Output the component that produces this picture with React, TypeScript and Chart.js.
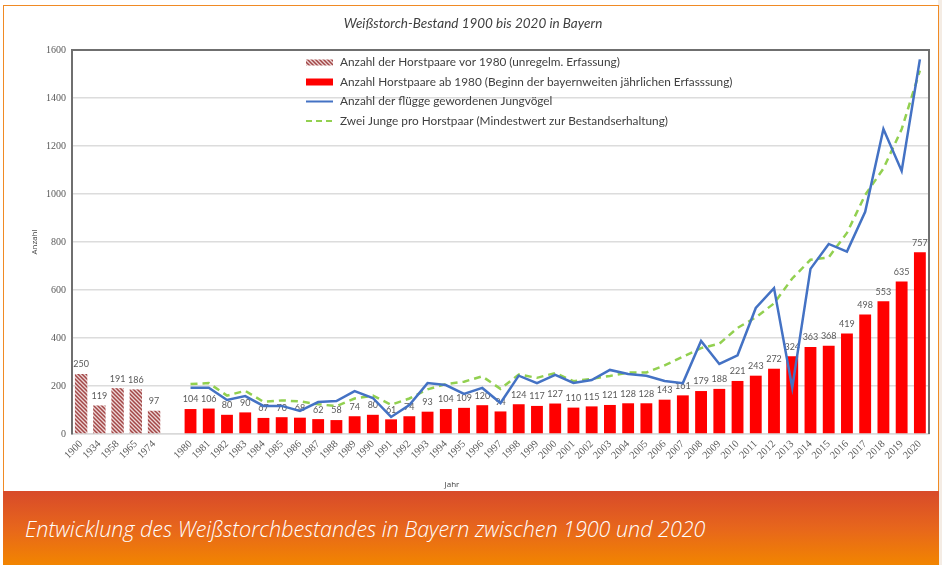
import React, { useEffect, useRef } from "react";
import { Chart, registerables } from "chart.js";
Chart.register(...registerables);

const oldYears = ["1900", "1934", "1958", "1965", "1974"];
const newYears = [
  "1980", "1981", "1982", "1983", "1984", "1985", "1986", "1987", "1988", "1989",
  "1990", "1991", "1992", "1993", "1994", "1995", "1996", "1997", "1998", "1999",
  "2000", "2001", "2002", "2003", "2004", "2005", "2006", "2007", "2008", "2009",
  "2010", "2011", "2012", "2013", "2014", "2015", "2016", "2017", "2018", "2019",
  "2020",
];
const oldPairs = [250, 119, 191, 186, 97];
const newPairs = [
  104, 106, 80, 90, 67, 70, 68, 62, 58, 74,
  80, 61, 74, 93, 104, 109, 120, 94, 124, 117,
  127, 110, 115, 121, 128, 128, 143, 161, 179, 188,
  221, 243, 272, 324, 363, 368, 419, 498, 553, 635,
  757,
];
const fledglings = [
  193, 193, 142, 158, 117, 117, 96, 133, 137, 179,
  150, 71, 121, 212, 204, 167, 192, 129, 243, 212,
  246, 213, 225, 267, 250, 243, 221, 212, 388, 292,
  328, 525, 608, 193, 688, 792, 760, 926, 1271, 1096,
  1561,
];
const twoPerPair = [
  208, 212, 160, 180, 134, 140, 136, 124, 116, 148,
  160, 122, 148, 186, 208, 218, 240, 188, 248, 234,
  254, 220, 230, 242, 256, 256, 286, 322, 358, 376,
  442, 486, 544, 648, 726, 736, 838, 996, 1106, 1270,
  1514,
];
const yTicks = [0, 200, 400, 600, 800, 1000, 1200, 1400, 1600];
const legendLabels = [
  "Anzahl der Horstpaare vor 1980 (unregelm. Erfassung)",
  "Anzahl Horstpaare ab 1980 (Beginn der bayernweiten jährlichen Erfasssung)",
  "Anzahl der flügge gewordenen Jungvögel",
  "Zwei Junge pro Horstpaar (Mindestwert zur Bestandserhaltung)",
];
const titleText = "Weißstorch-Bestand 1900 bis 2020 in Bayern";
const captionText = "Entwicklung des Weißstorchbestandes in Bayern zwischen 1900 und 2020";

const BLUE = "#4472c4";
const GREEN = "#92d050";
const RED = "#ff0000";
const TXT = "#595959";

function makeHatch(ctx: CanvasRenderingContext2D) {
  const c = document.createElement("canvas");
  c.width = 4;
  c.height = 4;
  const x = c.getContext("2d")!;
  x.fillStyle = "#ecd6d6";
  x.fillRect(0, 0, 4, 4);
  x.strokeStyle = "#a24646";
  x.lineWidth = 1.5;
  x.beginPath();
  x.moveTo(0, 0); x.lineTo(4, 4);
  x.moveTo(-2, 2); x.lineTo(2, 6);
  x.moveTo(2, -2); x.lineTo(6, 2);
  x.stroke();
  return ctx.createPattern(c, "repeat")!;
}

export default function App() {
  const ref = useRef<HTMLCanvasElement>(null);
  useEffect(() => {
    const canvas = ref.current!;
    const ctx = canvas.getContext("2d")!;
    const hatch = makeHatch(ctx);
    const gap = [null];
    const labels = [...oldYears, "", ...newYears];
    const nullsOld = oldYears.map(() => null);
    const nullsNew = newYears.map(() => null);

    const labelPlugin = {
      id: "barLabels",
      afterDatasetDraw(chart: any, args: any) {
        const ds = chart.data.datasets[args.index];
        if (ds.type !== "bar") return;
        const c = chart.ctx;
        c.save();
        c.font = "9px Lato";
        c.fillStyle = TXT;
        c.textAlign = "center";
        c.textBaseline = "bottom";
        args.meta.data.forEach((el: any, i: number) => {
          const v = ds.data[i];
          if (v == null) return;
          c.fillText(String(v), el.x, el.y - 5);
        });
        c.restore();
      },
    };

    const framePlugin = {
      id: "frame",
      beforeDatasetsDraw(chart: any) {
        const { left, right, top, bottom } = chart.chartArea;
        const c = chart.ctx;
        c.save();
        c.strokeStyle = "#6f6f6f";
        c.lineWidth = 2;
        c.beginPath();
        c.moveTo(left - 1, top);
        c.lineTo(right, top);
        c.lineTo(right, bottom);
        c.stroke();
        c.restore();
      },
      afterDraw(chart: any) {
        const c = chart.ctx;
        c.save();
        c.font = "italic 13.5px Lato";
        c.fillStyle = "#404040";
        c.textAlign = "center";
        c.textBaseline = "middle";
        c.fillText(titleText, 473, 24);
        c.font = "8px 'Open Sans'";
        c.fillStyle = "#404040";
        c.fillText("Jahr", 452, 485);
        c.translate(35, 242);
        c.rotate(-Math.PI / 2);
        c.fillText("Anzahl", 0, 0);
        c.restore();

        c.save();
        const rows = [62.5, 82, 101.5, 121];
        const x0 = 306, x1 = 333, tx = 340;
        c.font = "11.8px Lato";
        c.textAlign = "left";
        c.textBaseline = "middle";
        legendLabels.forEach((t, i) => {
          const y = rows[i];
          if (i === 0) {
            c.fillStyle = hatch;
            c.fillRect(x0, y - 3, x1 - x0, 6);
          } else if (i === 1) {
            c.fillStyle = RED;
            c.fillRect(x0, y - 3.5, x1 - x0, 7);
          } else if (i === 2) {
            c.strokeStyle = BLUE;
            c.lineWidth = 2;
            c.beginPath();
            c.moveTo(x0, y);
            c.lineTo(x1, y);
            c.stroke();
          } else {
            c.strokeStyle = GREEN;
            c.lineWidth = 2;
            c.setLineDash([6, 4]);
            c.beginPath();
            c.moveTo(x0, y);
            c.lineTo(x1, y);
            c.stroke();
            c.setLineDash([]);
          }
          c.fillStyle = "#404040";
          c.fillText(t, tx, y);
        });
        c.restore();
      },
    };

    const chart = new Chart(canvas, {
      data: {
        labels,
        datasets: [
          {
            type: "line",
            label: legendLabels[2],
            data: [...nullsOld, ...gap, ...fledglings],
            borderColor: BLUE,
            borderWidth: 2.5,
            pointRadius: 0,
            tension: 0,
            order: 0,
          },
          {
            type: "line",
            label: legendLabels[3],
            data: [...nullsOld, ...gap, ...twoPerPair],
            borderColor: GREEN,
            borderWidth: 2.5,
            borderDash: [7, 5],
            pointRadius: 0,
            tension: 0,
            order: 1,
          },
          {
            type: "bar",
            label: legendLabels[1],
            data: [...nullsOld, ...gap, ...newPairs],
            backgroundColor: RED,
            grouped: false,
            categoryPercentage: 1,
            barPercentage: 0.65,
            order: 2,
          },
          {
            type: "bar",
            label: legendLabels[0],
            data: [...oldPairs, ...gap, ...nullsNew],
            backgroundColor: hatch,
            grouped: false,
            categoryPercentage: 1,
            barPercentage: 0.68,
            order: 3,
          },
        ] as any,
      },
      options: {
        responsive: false,
        animation: false,
        devicePixelRatio: 1,
        layout: { padding: { left: 0, right: 13, top: 50, bottom: 0 } },
        plugins: {
          legend: { display: false },
          title: { display: false },
          tooltip: { enabled: false },
        },
        scales: {
          x: {
            grid: { display: false, drawTicks: false },
            border: { display: true, color: "#d9d9d9", width: 1.5 },
            ticks: {
              autoSkip: false,
              maxRotation: 45,
              minRotation: 45,
              padding: 4,
              color: TXT,
              font: { family: "'Liberation Serif'", size: 10.5 },
            },
            afterFit(scale: any) {
              scale.height = 57;
            },
          },
          y: {
            min: 0,
            max: 1600,
            afterBuildTicks(scale: any) {
              scale.ticks = yTicks.map((v) => ({ value: v }));
            },
            grid: { color: "#dcdcdc", lineWidth: 1.5, drawTicks: false },
            border: { display: true, color: "#6f6f6f", width: 2 },
            ticks: {
              padding: 6,
              color: TXT,
              font: { family: "'Liberation Serif'", size: 10 },
              callback: (v: any) => String(v),
            },
            afterFit(scale: any) {
              scale.width = 72;
            },
          },
        },
      },
      plugins: [labelPlugin, framePlugin],
    });
    return () => chart.destroy();
  }, []);

  return (
    <div style={{ position: "fixed", left: 0, top: 0, width: 942, height: 565, background: "#ffffff", overflow: "hidden" }}>
      <div style={{ position: "absolute", left: 938, top: 0, width: 4, height: 565, background: "#f4ece4" }} />
      <div
        style={{
          position: "absolute",
          left: 3,
          top: 5,
          width: 936,
          height: 486,
          boxSizing: "border-box",
          borderTop: "1.5px solid #f08a24",
          borderLeft: "1.5px solid #f08a24",
          borderRight: "1.5px solid #f08a24",
          background: "#ffffff",
        }}
      />
      <canvas ref={ref} width={942} height={491} style={{ position: "absolute", left: 0, top: 0, width: 942, height: 491 }} />
      <div
        style={{
          position: "absolute",
          left: 3,
          top: 491,
          width: 936,
          height: 74,
          background: "linear-gradient(to bottom, #d84a2a 0%, #e7661c 50%, #f28500 100%)",
        }}
      />
      <div
        style={{
          position: "absolute",
          left: 25,
          top: 514,
          color: "#ffffff",
          font: "italic 300 21.5px 'Open Sans'",
          lineHeight: "30px",
          whiteSpace: "nowrap",
        }}
      >
        {captionText}
      </div>
    </div>
  );
}
